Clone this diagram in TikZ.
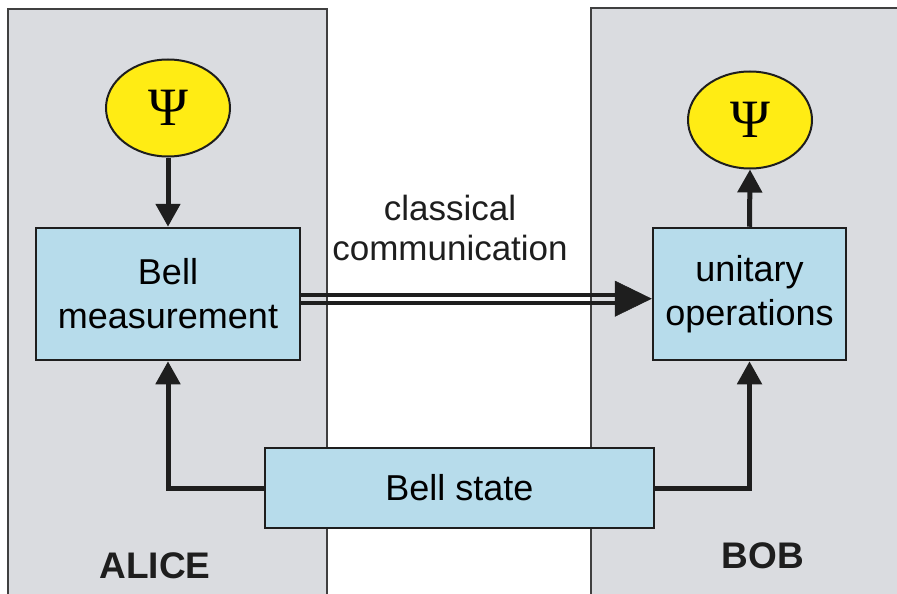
\documentclass[tikz,border=0pt]{standalone}
\usepackage{fontspec}
\setmainfont{Liberation Sans}
\newfontfamily\serifpsi{Liberation Serif}
\usetikzlibrary{arrows.meta,shapes.geometric,calc}
\definecolor{panelgray}{RGB}{218,220,224}
\definecolor{boxblue}{RGB}{183,220,235}
\definecolor{psiyellow}{RGB}{255,236,20}
\definecolor{edgecol}{RGB}{30,30,30}
\begin{document}
\begin{tikzpicture}[x=1pt,y=-1pt,
  panel/.style={fill=panelgray,draw=edgecol!85,line width=2pt},
  box/.style={draw=edgecol,fill=boxblue,line width=2.5pt,inner sep=0pt,align=center,
    font=\fontsize{36}{44}\selectfont},
  psi/.style={ellipse,draw=edgecol,fill=psiyellow,line width=2pt,minimum width=124pt,
    minimum height=97pt,inner sep=0pt,font=\serifpsi\fontsize{54}{54}\selectfont},
  conn/.style={line width=5pt,draw=edgecol,-{Triangle[length=23pt,width=24pt]}},
  rail/.style={line width=4pt,draw=edgecol},
  lbl/.style={align=center,inner sep=0pt,font=\fontsize{35}{40}\selectfont,text=edgecol},
  who/.style={inner sep=0pt,font=\bfseries\fontsize{37}{37}\selectfont,text=edgecol}]
\useasboundingbox (0,0) rectangle (897,594);
\clip (0,0) rectangle (897,594);
\fill[white] (0,0) rectangle (897,594);
% panels
\draw[panel] (8,9) rectangle (327,610);
\draw[panel] (591,8) rectangle (910,610);
% nodes
\node[psi] (psiA) at (168,108) {Ψ};
\node[psi] (psiB) at (750,120) {Ψ};
\node[box,minimum width=264pt,minimum height=132pt] (bm) at (168,294) {Bell\\measurement};
\node[box,minimum width=193pt,minimum height=132pt] (uo) at (749.5,294) {unitary\\operations};
\node[box,minimum width=389pt,minimum height=80pt] (bs) at (459.5,488) {Bell state};
\node[lbl] (cc) at (450,228) {classical\\communication};
\node[who] (alice) at (155,566) {ALICE};
\node[who] (bob) at (763,556) {BOB};
% connectors
\draw[conn] (psiA.south) -- (bm.north);
\draw[conn] (uo.north) -- (psiB.south);
\draw[conn] (bs.west) -| (bm.south);
\draw[conn] (bs.east) -| (uo.south);
% classical double arrow
\coordinate (r1) at (0,294.7);
\coordinate (r2) at (0,302.8);
\coordinate (rm) at (0,298.7);
\draw[rail] (bm.east |- r1) -- ([xshift=-34pt]uo.west |- r1);
\draw[rail] (bm.east |- r2) -- ([xshift=-34pt]uo.west |- r2);
\draw[draw=edgecol,line width=0.5pt,-{Triangle[length=37pt,width=36pt]}]
  ([xshift=-37pt]uo.west |- rm) -- (uo.west |- rm);
\end{tikzpicture}
\end{document}
